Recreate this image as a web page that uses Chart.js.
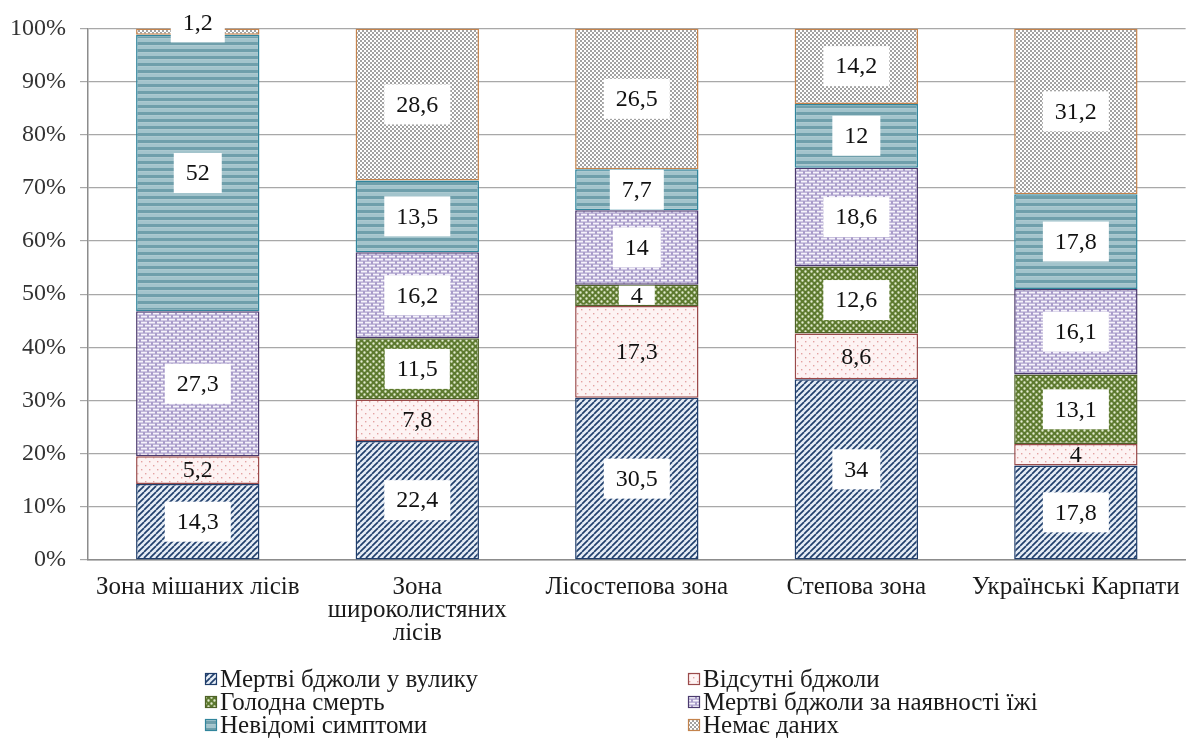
<!DOCTYPE html>
<html>
<head>
<meta charset="utf-8">
<script src="https://cdn.jsdelivr.net/npm/chart.js@4"></script>
<style>
  html, body { margin: 0; padding: 0; background: #fff; }
  #chart { display: block; }
</style>
</head>
<body>
<canvas id="chart" width="1196" height="743"></canvas>
<script>
// zones (x categories), the second one wraps on three lines like in the source
const zones = [
    "Зона мішаних лісів",
    ["Зона", "широколистяних", "лісів"],
    "Лісостепова зона",
    "Степова зона",
    "Українські Карпати"
]

const seriesNames = [
    "Мертві бджоли у вулику",
    "Відсутні бджоли",
    "Голодна смерть",
    "Мертві бджоли за наявності їжі",
    "Невідомі симптоми",
    "Немає даних"
]

// shares, %
const deadInHive      = [14.3, 22.4, 30.5, 34, 17.8]
const absentBees      = [5.2, 7.8, 17.3, 8.6, 4]
const starvation      = [0, 11.5, 4, 12.6, 13.1]
const deadWithFood    = [27.3, 16.2, 14, 18.6, 16.1]
const unknownSymptoms = [52, 13.5, 7.7, 12, 17.8]
const noData          = [1.2, 28.6, 26.5, 14.2, 31.2]

const yTickStep = 10
const FONT = '"Liberation Serif", "Times New Roman", serif'

// small canvas tiles used as fill patterns
const makePattern = (w, h, draw) => {
    const c = document.createElement('canvas')
    c.width = w
    c.height = h
    const g = c.getContext('2d')
    draw(g, w, h)
    return g.createPattern(c, 'repeat')
}

const hatch = makePattern(6, 6, (g, s) => {
    g.fillStyle = '#e6edf6'
    g.fillRect(0, 0, s, s)
    g.strokeStyle = '#21406d'
    g.lineWidth = 1.7
    for (const k of [-s, 0, s]) {
        g.beginPath()
        g.moveTo(k, s)
        g.lineTo(k + s, 0)
        g.stroke()
    }
})

const pinkDots = makePattern(8, 8, (g) => {
    g.fillStyle = '#fdf3f3'
    g.fillRect(0, 0, 8, 8)
    g.fillStyle = '#e3a2a2'
    g.fillRect(1, 1, 1.4, 1.4)
    g.fillRect(5, 5, 1.4, 1.4)
})

const greenChecks = makePattern(6, 6, (g) => {
    g.fillStyle = '#5d7a2f'
    g.fillRect(0, 0, 6, 6)
    g.fillStyle = '#e3ebd0'
    g.beginPath()
    g.arc(1.5, 1.5, 1.2, 0, Math.PI * 2)
    g.arc(4.5, 4.5, 1.2, 0, Math.PI * 2)
    g.fill()
})

const purpleBricks = makePattern(8, 6, (g) => {
    g.fillStyle = '#a99cca'
    g.fillRect(0, 0, 8, 6)
    g.fillStyle = '#f6f3fb'
    g.fillRect(1, 0.7, 6, 1.8)
    g.fillRect(5, 3.7, 6, 1.8)
    g.fillRect(-3, 3.7, 6, 1.8)
})

const tealStripes = makePattern(2, 7, (g) => {
    g.fillStyle = '#6f9fab'
    g.fillRect(0, 0, 2, 3.5)
    g.fillStyle = '#a3c4cc'
    g.fillRect(0, 3.5, 2, 3.5)
})

const grayChecks = makePattern(4, 4, (g) => {
    g.fillStyle = '#ffffff'
    g.fillRect(0, 0, 4, 4)
    g.fillStyle = '#a2a2a2'
    g.fillRect(0, 0, 2, 2)
    g.fillRect(2, 2, 2, 2)
})

const valueSets = [deadInHive, absentBees, starvation, deadWithFood, unknownSymptoms, noData]
const fills = [hatch, pinkDots, greenChecks, purpleBricks, tealStripes, grayChecks]
const borders = ['#1f3d6b', '#9a4a4a', '#4f6228', '#4b3a6e', '#31859c', '#c4834c']

const datasets = valueSets.map((values, i) => ({
    label: seriesNames[i],
    data: values,
    backgroundColor: fills[i],
    borderColor: borders[i],
    borderWidth: 1.5,
    borderSkipped: false,
    categoryPercentage: 1,
    barPercentage: 0.562,
    labelBox: i !== 1 // pink segments are almost white, no box there
}))

// white boxes with the numbers in the middle of each segment
const valueLabels = {
    id: 'valueLabels',
    afterDatasetsDraw(chart) {
        const ctx = chart.ctx
        ctx.save()
        ctx.font = `24px ${FONT}`
        ctx.textAlign = 'center'
        ctx.textBaseline = 'middle'
        chart.data.datasets.forEach((ds, i) => {
            chart.getDatasetMeta(i).data.forEach((bar, j) => {
                const v = ds.data[j]
                if (!v) return
                const text = String(v).replace('.', ',')
                const segH = Math.abs(bar.base - bar.y)
                let cy = (bar.y + bar.base) / 2
                let h = 40
                if (segH < 12) cy = bar.y - 6
                else if (segH < h) h = segH - 2
                const w = ctx.measureText(text).width + 24
                if (ds.labelBox) {
                    ctx.fillStyle = '#ffffff'
                    ctx.fillRect(bar.x - w / 2, cy - h / 2, w, h)
                }
                ctx.fillStyle = '#111'
                ctx.fillText(text, bar.x, cy + 1)
            })
        })
        ctx.restore()
    }
}

// legend in two columns, three rows
const twoColumnLegend = {
    id: 'twoColumnLegend',
    afterDraw(chart) {
        const ctx = chart.ctx
        const cols = [205, 688]
        const rows = [679, 702, 725]
        ctx.save()
        ctx.font = `25px ${FONT}`
        ctx.textAlign = 'left'
        ctx.textBaseline = 'middle'
        chart.data.datasets.forEach((ds, i) => {
            const x = cols[i % 2]
            const y = rows[Math.floor(i / 2)]
            ctx.fillStyle = ds.backgroundColor
            ctx.fillRect(x, y - 6, 12, 12)
            ctx.strokeStyle = ds.borderColor
            ctx.lineWidth = 1.2
            ctx.strokeRect(x + 0.5, y - 5.5, 11, 11)
            ctx.fillStyle = '#1a1a1a'
            ctx.fillText(ds.label, x + 15, y + 1)
        })
        ctx.restore()
    }
}

new Chart(document.querySelector('#chart'), {
    type: 'bar',
    data: {
        labels: zones,
        datasets: datasets
    },
    options: {
        responsive: false,
        animation: false,
        layout: { padding: { top: 24, right: 4, left: 0, bottom: 0 } },
        plugins: {
            legend: { display: false },
            tooltip: { enabled: false }
        },
        scales: {
            x: {
                stacked: true,
                grid: { display: false, drawTicks: false },
                border: { display: true, color: '#8c8c8c', width: 1.5 },
                ticks: {
                    color: '#1a1a1a',
                    font: { family: FONT, size: 25, lineHeight: 0.92 },
                    padding: 16,
                    maxRotation: 0,
                    autoSkip: false
                },
                afterFit: (scale) => { scale.height = 183 }
            },
            y: {
                stacked: true,
                min: 0,
                max: 100,
                ticks: {
                    stepSize: yTickStep,
                    color: '#333',
                    font: { family: FONT, size: 24 },
                    padding: 14,
                    callback: (v) => v + '%'
                },
                grid: { color: '#a8a8a8', lineWidth: 1.2, tickLength: 8 },
                border: { display: true, color: '#8c8c8c', width: 1.5 },
                afterFit: (scale) => { scale.width = 88 }
            }
        }
    },
    plugins: [valueLabels, twoColumnLegend]
})
</script>
</body>
</html>
